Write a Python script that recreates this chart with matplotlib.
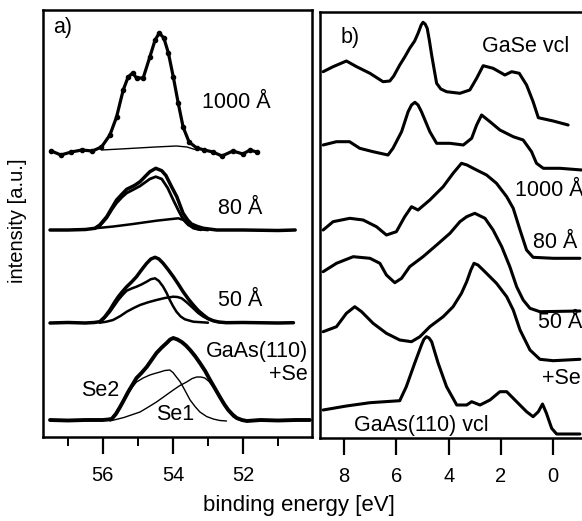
import numpy as np
import matplotlib
matplotlib.use("Agg")
import matplotlib.pyplot as plt
from matplotlib.ticker import MultipleLocator

plt.rcParams["font.family"] = ["Liberation Sans", "DejaVu Sans"]
plt.rcParams["font.size"] = 15.5
plt.rcParams["lines.solid_joinstyle"] = "round"
plt.rcParams["lines.solid_capstyle"] = "round"

# ---------------- panel a) Se 3d core levels ----------------
# 1000 A (data points + fit)
a1000_e = [57.47, 57.2, 56.9, 56.6, 56.3, 56.04, 55.8, 55.61, 55.42, 55.28, 55.15, 55.04,
           54.85, 54.66, 54.51, 54.39, 54.26, 54.13, 53.99, 53.85, 53.71, 53.54, 53.32,
           53.1, 52.86, 52.6, 52.29, 52.0, 51.8, 51.61]
a1000_i = [286, 282, 285, 287, 286, 290, 302, 320, 347, 360, 364, 359,
           359, 380, 397, 404, 399, 384, 360, 334, 310, 295, 289,
           287, 285, 281, 286, 283, 287, 285]
a1000_bg_e = [56.04, 55.5, 55.0, 54.5, 53.9, 53.6, 53.42, 53.3]
a1000_bg_i = [287, 288, 289, 290, 291, 290, 288, 287]

# 80 A: envelope and two components
a80_e = [57.51, 57.0, 56.5, 56.23, 56.09, 55.89, 55.75, 55.61, 55.45, 55.32, 55.1, 54.94,
         54.78, 54.66, 54.49, 54.32, 54.2, 54.05, 53.89, 53.71, 53.58, 53.47, 53.3, 53.13,
         52.75, 52.0, 51.0, 50.51]
a80_i = [207, 207, 207.5, 208.7, 212, 220.3, 228.7, 237, 243, 247.7, 251.5, 255.3,
         261, 265.3, 268.7, 266.3, 261.5, 251, 240.3, 223.7, 217, 213, 210.5, 208.7,
         207, 207, 206.5, 207]
a80_c1_e = [56.23, 56.09, 55.89, 55.75, 55.61, 55.45, 55.32, 55.1, 54.94, 54.78, 54.66, 54.49,
            54.32, 54.15, 53.99, 53.85, 53.75, 53.56, 53.3, 53.0]
a80_c1_i = [208.5, 211, 219, 227, 234, 240, 244, 248, 251, 255, 258, 260.3,
            258, 249, 237, 227, 220.3, 212, 208, 207]
a80_c2_e = [56.23, 55.7, 55.14, 54.47, 53.85, 53.7, 53.61, 53.42, 53.2]
a80_c2_i = [208.7, 210.5, 213, 216.3, 218.7, 217, 213.7, 208.7, 207]

# 50 A
a50_e = [57.51, 57.0, 56.5, 56.25, 56.09, 55.95, 55.8, 55.68, 55.56, 55.44, 55.32, 55.18,
         55.04, 54.9, 54.75, 54.63, 54.51, 54.4, 54.28, 54.14, 53.99, 53.85, 53.71, 53.56,
         53.42, 53.28, 53.13, 53.0, 52.85, 52.7, 52.47, 52.0, 51.0, 50.56]
a50_i = [114, 114.5, 114, 114.5, 115.3, 120, 127, 134, 140.3, 145.5, 150.3, 155,
         160.3, 167, 173.7, 178, 179.7, 178, 173.7, 167.5, 160.3, 153, 145.3, 138,
         132, 126.5, 122, 118.5, 116.3, 115, 114.3, 114.5, 114, 114.3]
a50_c1_e = [56.09, 55.95, 55.8, 55.68, 55.56, 55.44, 55.32, 55.18, 55.04, 54.9, 54.75, 54.63,
            54.51, 54.4, 54.28, 54.18, 54.09, 54.0, 53.9, 53.78, 53.66, 53.42, 53.0]
a50_c1_i = [114.5, 119, 125, 131, 137, 142, 146.3, 148.5, 150.3, 152.5, 155.3, 157.8,
            158.7, 156, 150.3, 144, 137, 131, 125.3, 120.5, 117.7, 115.3, 114.3]
a50_c2_e = [56.09, 55.9, 55.71, 55.5, 55.32, 55.12, 54.94, 54.7, 54.47, 54.23, 53.99, 53.87,
            53.75, 53.6, 53.42, 53.28, 53.13, 52.99, 52.85, 52.66, 52.47]
a50_c2_i = [114.3, 115.3, 117, 121, 125.3, 129, 132, 134.8, 137, 139, 140.3, 140,
            138.7, 134.5, 128.7, 124, 120.3, 117.8, 116, 114.8, 114.3]

# GaAs(110)+Se with components Se2 and Se1
ase_e = [57.51, 57.0, 56.5, 56.0, 55.85, 55.75, 55.63, 55.51, 55.4, 55.28, 55.16, 55.04,
         54.9, 54.75, 54.61, 54.47, 54.32, 54.18, 54.08, 53.99, 53.87, 53.75, 53.63, 53.51,
         53.37, 53.23, 53.08, 52.94, 52.8, 52.66, 52.54, 52.42, 52.3, 52.18, 52.03, 51.89,
         51.5, 51.0, 50.5, 50.09]
ase_i = [17, 16.5, 17, 17, 17.5, 18, 23, 30, 37, 45, 52, 59,
         64, 70, 77, 84, 89.5, 94, 97.5, 99, 97.5, 95, 91.5, 87,
         81, 74, 66, 57, 48.5, 40, 33, 27, 22.5, 19, 17, 16,
         17, 16.5, 17, 17]
ase_se2_e = [55.75, 55.63, 55.51, 55.4, 55.28, 55.16, 55.04, 54.85, 54.66, 54.52, 54.37, 54.23,
             54.09, 54.0, 53.9, 53.8, 53.71, 53.61, 53.51, 53.37, 53.23, 53.04, 52.85, 52.66, 52.47]
ase_se2_i = [17, 22, 29, 36, 43, 50, 55, 59, 62, 63.5, 65, 66.5,
             67, 64.5, 60, 55.5, 50, 43.5, 37, 30.5, 25, 20.5, 18, 16.5, 16]
ase_se1_e = [55.8, 55.4, 54.94, 54.7, 54.47, 54.23, 53.99, 53.8, 53.61, 53.45, 53.32, 53.2,
             53.09, 52.97, 52.85, 52.7, 52.56, 52.42, 52.28, 52.14, 51.99]
ase_se1_i = [16, 19.5, 25, 30, 35, 41, 47, 51.5, 55, 58.5, 60, 60,
             59, 55.5, 50, 42.5, 34, 26.5, 20, 17.5, 16]

# ---------------- panel b) valence band spectra ----------------
b_gase_e = [8.80, 8.42, 7.91, 7.52, 7.01, 6.51, 6.25, 6.1, 5.87, 5.68, 5.49, 5.3, 5.17, 5.05,
            4.98, 4.9, 4.82, 4.74, 4.65, 4.55, 4.46, 4.3, 4.08, 3.57, 3.19, 2.93, 2.68, 2.30,
            1.85, 1.59, 1.30, 1.02, 0.77, 0.57, 0.0, -0.57]
b_gase_i = [366.3, 371.3, 377, 371.3, 364.7, 356.3, 357, 362, 373, 381, 389.7, 397, 404.7, 413,
            415.7, 414, 409.7, 398, 383, 368, 354.7, 349, 346.3, 344.7, 348, 359.7, 372.3, 369.7,
            363, 366.3, 364.7, 353, 336.3, 320.3, 317, 313]
b_1000_e = [8.80, 8.29, 7.79, 7.40, 6.89, 6.32, 6.13, 5.80, 5.55, 5.42, 5.29, 5.17, 5.04, 4.72,
            4.46, 3.95, 3.44, 3.12, 2.93, 2.74, 2.42, 2.04, 1.53, 1.15, 0.83, 0.64, 0.38, -0.26,
            -1.09]
b_1000_i = [293, 296.3, 296.3, 289.7, 286.3, 283, 289.7, 306.3, 326.3, 333, 335.7, 333, 326.3,
            306.3, 294.7, 294.7, 293, 299.7, 313, 323, 316.3, 308, 301.3, 298, 286.3, 274.7,
            269.7, 269.7, 268]
b_80_e = [8.80, 8.42, 7.78, 7.27, 6.76, 6.38, 6.00, 5.68, 5.42, 5.17, 4.72, 4.21, 3.83,
          3.51, 3.3, 3.06, 2.55, 2.17, 1.78, 1.53, 1.27, 1.02, 0.77, 0.0, -1.02]
b_80_i = [208, 216.3, 219.7, 218, 211.3, 203, 206.3, 221.3, 231.3, 228, 238, 251.3, 264.7,
          274.7, 273, 269.7, 263, 254.7, 241.3, 229.7, 208, 188, 180.7, 179.7, 179.7]
b_50_e = [8.80, 8.29, 7.65, 7.01, 6.63, 6.38, 6.06, 5.80, 5.49, 4.98, 4.46, 3.95, 3.57,
          3.31, 3.00, 2.61, 2.30, 1.97, 1.66, 1.40, 1.15, 0.89, 0.51, -1.02]
b_50_i = [166.3, 174.7, 181.3, 179.7, 174.7, 163, 155.3, 159.7, 171.3, 181.3, 193, 204.7, 216.3,
          221.3, 224.7, 219.7, 208, 191.3, 171.3, 151.3, 138, 129.7, 126.3, 127]
b_se_e = [8.80, 8.29, 7.91, 7.59, 7.33, 6.89, 6.38, 5.87, 5.42, 5.10, 4.72, 4.21, 3.83,
          3.51, 3.31, 3.15, 3.03, 2.88, 2.68, 2.17, 1.78, 1.53, 1.27, 0.89, 0.51, 0.0, -1.02]
b_se_i = [106.3, 111.3, 124.7, 131.3, 126.3, 114.7, 104.7, 98, 96.3, 101.3, 111.3, 121.3, 131.3,
          144.7, 156.3, 168, 174.7, 173, 168, 154.7, 141.3, 128, 108, 88, 78.7, 77.3, 78.7]
b_gaas_e = [8.80, 7.91, 7.01, 5.87, 5.62, 5.30, 5.04, 4.95, 4.85, 4.75, 4.65, 4.40, 4.08, 3.69,
            3.31, 3.12, 2.80, 2.42, 2.04, 1.78, 1.40, 1.02, 0.77, 0.57, 0.41, 0.26, 0.06, -0.13,
            -1.02]
b_gaas_i = [28, 32, 35.3, 37.3, 51.3, 74.7, 93, 98.5, 101.3, 100, 96.3, 74.7, 51.3, 33,
            33, 36.3, 33, 38, 46.3, 46.3, 36.3, 26.3, 21.3, 26.3, 34, 24.7, 9.7, 4,
            4]

W, H = 582, 521
fig = plt.figure(figsize=(W / 100, H / 100), dpi=100)
axa = fig.add_axes([43 / W, 1 - 437 / H, (312 - 43) / W, (437 - 10) / H])
axb = fig.add_axes([320 / W, 1 - 438 / H, (582 - 320) / W, (438 - 12) / H])

thick = 2.5
thin = 1.0

# panel a
axa.plot(a1000_e, a1000_i, "k-", lw=2.3, marker="o", ms=3)
axa.plot(a1000_bg_e, a1000_bg_i, "k-", lw=thin)
axa.plot(a80_e, a80_i, "k-", lw=thick)
axa.plot(a80_c1_e, a80_c1_i, "k-", lw=2.0)
axa.plot(a80_c2_e, a80_c2_i, "k-", lw=1.8)
axa.plot(a50_e, a50_i, "k-", lw=thick)
axa.plot(a50_c1_e, a50_c1_i, "k-", lw=1.8)
axa.plot(a50_c2_e, a50_c2_i, "k-", lw=1.8)
axa.plot(ase_e, ase_i, "k-", lw=2.8)
axa.plot(ase_se2_e, ase_se2_i, "k-", lw=thin)
axa.plot(ase_se1_e, ase_se1_i, "k-", lw=thin)

axa.set_xlim(57.71, 50.03)
axa.set_ylim(0, 427)
axa.xaxis.set_major_locator(MultipleLocator(2))
axa.xaxis.set_minor_locator(MultipleLocator(1))
axa.text(57.14, 410, "a)", ha="center", va="center")
axa.text(52.2, 335, "1000 Å", ha="center", va="center")
axa.text(52.09, 229, "80 Å", ha="center", va="center")
axa.text(52.09, 137, "50 Å", ha="center", va="center")
axa.text(50.15, 74, "GaAs(110)\n+Se", ha="right", va="center", multialignment="right",
         linespacing=1.1)
axa.text(56.09, 47, "Se2", ha="center", va="center")
axa.text(53.94, 22, "Se1", ha="center", va="center")

# panel b
for e, i in [(b_gase_e, b_gase_i), (b_1000_e, b_1000_i), (b_80_e, b_80_i),
             (b_50_e, b_50_i), (b_se_e, b_se_i), (b_gaas_e, b_gaas_i)]:
    axb.plot(e, i, "k-", lw=2.2)

axb.set_xlim(8.92, -1.1)
axb.set_ylim(0, 426)
axb.xaxis.set_major_locator(MultipleLocator(2))
axb.text(7.78, 401, "b)", ha="center", va="center")
axb.text(1.04, 391, "GaSe vcl", ha="center", va="center")
axb.text(1.47, 248, "1000 Å", ha="left", va="center")
axb.text(0.78, 195, "80 Å", ha="left", va="center")
axb.text(0.58, 115, "50 Å", ha="left", va="center")
axb.text(0.43, 59, "+Se", ha="left", va="center")
axb.text(5.06, 13, "GaAs(110) vcl", ha="center", va="center")
axb.spines["right"].set_visible(False)

for ax in (axa, axb):
    for s in ax.spines.values():
        s.set_linewidth(1.8)
    ax.set_yticks([])
    ax.tick_params(axis="x", which="major", direction="out", length=12, width=1.6,
                   pad=9, labelsize=14.5)
    ax.tick_params(axis="x", which="minor", direction="out", length=6.5, width=1.4)

fig.text(18 / W, 1 - 221 / H, "intensity [a.u.]", rotation=90, ha="center", va="center",
         fontsize=14.5)
fig.text(299 / W, 1 - 506 / H, "binding energy [eV]", ha="center", va="center", fontsize=16)

fig.savefig("out.png", dpi=100)
